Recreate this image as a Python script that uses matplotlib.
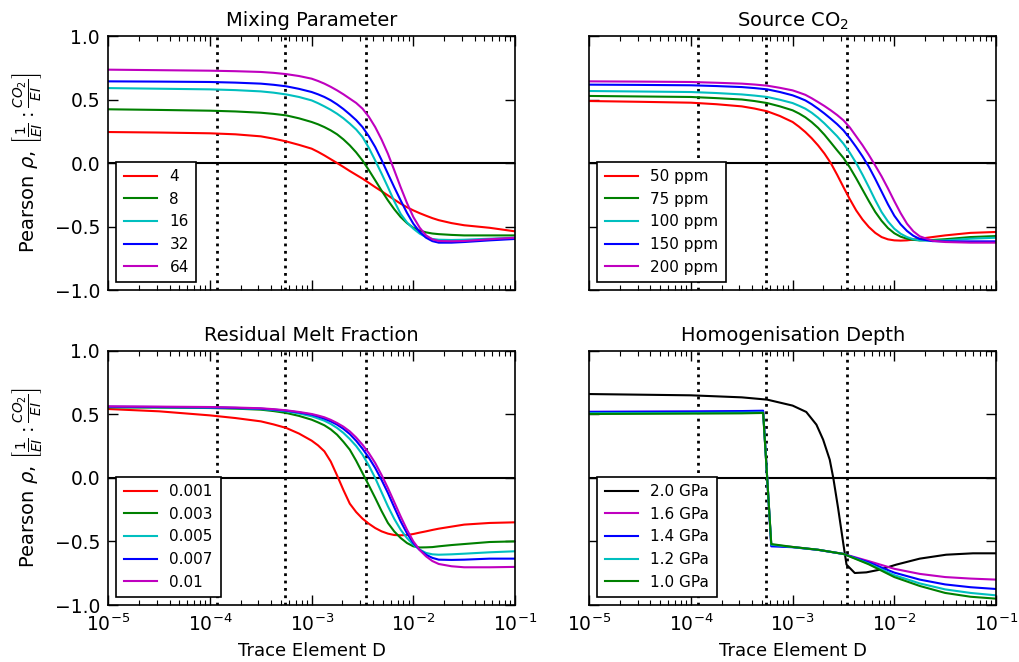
import numpy as np
import matplotlib
matplotlib.use("Agg")
import matplotlib.pyplot as plt
from matplotlib.ticker import LogLocator, NullFormatter, FixedLocator, FuncFormatter

# ---------------- data (log10 D grids and Pearson rho values) ----------------
logD_grid = [-5.0, -4.5, -4.0, -3.75, -3.5, -3.375, -3.25, -3.125, -3.0, -2.9375,
             -2.875, -2.8125, -2.75, -2.6875, -2.625, -2.5625, -2.5, -2.4375, -2.375,
             -2.3125, -2.25, -2.1875, -2.125, -2.0625, -2.0, -1.9375, -1.875, -1.8125,
             -1.75, -1.625, -1.5, -1.25, -1.0]

# Panel 1: Mixing Parameter
mix_labels = ["4", "8", "16", "32", "64"]
mix_4 = [0.244, 0.24, 0.234, 0.226, 0.21, 0.192, 0.17, 0.143, 0.113, 0.088,
         0.06, 0.03, 0.0, -0.031, -0.063, -0.093, -0.123, -0.156, -0.19,
         -0.222, -0.255, -0.288, -0.32, -0.348, -0.373, -0.395, -0.415, -0.434,
         -0.45, -0.473, -0.49, -0.51, -0.538]
mix_8 = [0.423, 0.418, 0.412, 0.406, 0.396, 0.387, 0.375, 0.352, 0.323, 0.305,
         0.283, 0.257, 0.226, 0.186, 0.139, 0.084, 0.02, -0.056, -0.136,
         -0.217, -0.294, -0.364, -0.425, -0.473, -0.51, -0.532, -0.546, -0.555,
         -0.56, -0.566, -0.57, -0.57, -0.57]
mix_16 = [0.59, 0.585, 0.58, 0.574, 0.564, 0.554, 0.54, 0.52, 0.493, 0.471,
          0.446, 0.419, 0.388, 0.352, 0.31, 0.264, 0.205, 0.119, 0.02,
          -0.083, -0.19, -0.301, -0.40, -0.468, -0.517, -0.556, -0.583, -0.598,
          -0.604, -0.606, -0.604, -0.596, -0.588]
mix_32 = [0.643, 0.641, 0.638, 0.633, 0.625, 0.616, 0.604, 0.584, 0.559, 0.541,
          0.52, 0.494, 0.462, 0.425, 0.383, 0.338, 0.283, 0.211, 0.126,
          0.024, -0.084, -0.191, -0.294, -0.392, -0.478, -0.542, -0.588, -0.615,
          -0.627, -0.627, -0.622, -0.609, -0.598]
mix_64 = [0.735, 0.731, 0.727, 0.723, 0.717, 0.71, 0.70, 0.685, 0.664, 0.646,
          0.625, 0.60, 0.572, 0.541, 0.507, 0.473, 0.428, 0.364, 0.283,
          0.185, 0.073, -0.057, -0.19, -0.315, -0.425, -0.509, -0.57, -0.601,
          -0.614, -0.616, -0.614, -0.60, -0.588]

# Panel 2: Source CO2
co2_labels = ["50 ppm", "75 ppm", "100 ppm", "150 ppm", "200 ppm"]
co2_50 = [0.488, 0.482, 0.475, 0.463, 0.446, 0.429, 0.407, 0.37, 0.323, 0.286,
          0.244, 0.195, 0.139, 0.075, 0.0, -0.092, -0.19, -0.285, -0.373,
          -0.445, -0.504, -0.55, -0.583, -0.601, -0.609, -0.611, -0.609, -0.603,
          -0.596, -0.583, -0.57, -0.55, -0.543]
co2_75 = [0.528, 0.524, 0.52, 0.511, 0.50, 0.488, 0.472, 0.446, 0.415, 0.39,
          0.36, 0.322, 0.277, 0.223, 0.162, 0.1, 0.04, -0.035, -0.12,
          -0.21, -0.30, -0.385, -0.455, -0.512, -0.553, -0.58, -0.596, -0.605,
          -0.609, -0.606, -0.60, -0.583, -0.575]
co2_100 = [0.567, 0.563, 0.559, 0.551, 0.54, 0.531, 0.52, 0.498, 0.472, 0.451,
           0.428, 0.396, 0.357, 0.312, 0.262, 0.211, 0.152, 0.081, 0.0,
           -0.092, -0.19, -0.292, -0.386, -0.46, -0.517, -0.557, -0.583, -0.60,
           -0.609, -0.611, -0.609, -0.596, -0.588]
co2_150 = [0.617, 0.615, 0.612, 0.606, 0.598, 0.59, 0.58, 0.559, 0.533, 0.514,
           0.493, 0.463, 0.428, 0.39, 0.349, 0.306, 0.257, 0.195, 0.126,
           0.052, -0.03, -0.125, -0.225, -0.325, -0.415, -0.483, -0.535, -0.573,
           -0.598, -0.615, -0.617, -0.617, -0.617]
co2_200 = [0.643, 0.641, 0.638, 0.632, 0.625, 0.618, 0.609, 0.592, 0.572, 0.555,
           0.537, 0.51, 0.48, 0.449, 0.415, 0.378, 0.336, 0.28, 0.21,
           0.14, 0.063, -0.02, -0.105, -0.2, -0.30, -0.395, -0.478, -0.538,
           -0.577, -0.612, -0.622, -0.627, -0.627]

# Panel 3: Residual Melt Fraction
melt_labels = ["0.001", "0.003", "0.005", "0.007", "0.01"]
melt_001 = [0.543, 0.525, 0.493, 0.472, 0.446, 0.422, 0.394, 0.35, 0.294, 0.257,
            0.21, 0.13, 0.02, -0.095, -0.202, -0.268, -0.32, -0.36, -0.394,
            -0.42, -0.438, -0.449, -0.451, -0.449, -0.441, -0.43, -0.42, -0.409,
            -0.399, -0.383, -0.367, -0.354, -0.349]
melt_003 = [0.556, 0.554, 0.551, 0.546, 0.538, 0.527, 0.512, 0.489, 0.459, 0.438,
            0.415, 0.383, 0.341, 0.285, 0.223, 0.136, 0.039, -0.058, -0.157,
            -0.26, -0.354, -0.421, -0.472, -0.512, -0.538, -0.547, -0.546, -0.544,
            -0.538, -0.528, -0.52, -0.504, -0.499]
melt_005 = [0.559, 0.557, 0.554, 0.55, 0.543, 0.535, 0.525, 0.508, 0.486, 0.469,
            0.451, 0.426, 0.394, 0.355, 0.307, 0.252, 0.184, 0.098, 0.0,
            -0.112, -0.223, -0.322, -0.407, -0.473, -0.525, -0.564, -0.59, -0.601,
            -0.604, -0.601, -0.596, -0.585, -0.577]
melt_007 = [0.562, 0.559, 0.556, 0.552, 0.546, 0.539, 0.53, 0.516, 0.499, 0.484,
            0.467, 0.446, 0.42, 0.387, 0.346, 0.293, 0.231, 0.16, 0.079,
            -0.015, -0.118, -0.231, -0.341, -0.435, -0.512, -0.566, -0.604, -0.629,
            -0.643, -0.645, -0.643, -0.635, -0.635]
melt_01 = [0.564, 0.562, 0.559, 0.555, 0.549, 0.542, 0.533, 0.52, 0.504, 0.492,
           0.478, 0.458, 0.433, 0.404, 0.367, 0.319, 0.262, 0.196, 0.118,
           0.024, -0.079, -0.19, -0.302, -0.407, -0.499, -0.567, -0.617, -0.654,
           -0.677, -0.695, -0.703, -0.703, -0.70]

# Panel 4: Homogenisation Depth
depth_labels = ["2.0 GPa", "1.6 GPa", "1.4 GPa", "1.2 GPa", "1.0 GPa"]
logD_depth20 = [-5.0, -4.0, -3.5, -3.25, -3.0, -2.866, -2.766, -2.70, -2.635, -2.60,
                -2.553, -2.50, -2.47, -2.389, -2.275, -2.143, -1.98, -1.75, -1.49,
                -1.226, -1.0]
depth_20 = [0.661, 0.651, 0.635, 0.617, 0.57, 0.52, 0.42, 0.302, 0.144, 0.0,
            -0.236, -0.525, -0.682, -0.748, -0.743, -0.722, -0.682, -0.635, -0.604,
            -0.593, -0.593]
logD_depth = [-5.0, -4.0, -3.5, -3.29, -3.21, -3.0, -2.75, -2.5, -2.25, -2.0,
              -1.75, -1.5, -1.25, -1.0]
depth_16 = [0.52, 0.522, 0.524, 0.526, -0.53, -0.543, -0.565, -0.598, -0.655, -0.715,
            -0.755, -0.78, -0.792, -0.80]
depth_14 = [0.521, 0.524, 0.527, 0.53, -0.538, -0.545, -0.566, -0.598, -0.665, -0.745,
            -0.80, -0.838, -0.86, -0.874]
depth_12 = [0.51, 0.512, 0.514, 0.516, -0.525, -0.544, -0.565, -0.598, -0.675, -0.765,
            -0.83, -0.877, -0.905, -0.924]
depth_10 = [0.504, 0.507, 0.509, 0.512, -0.52, -0.543, -0.565, -0.598, -0.68, -0.78,
            -0.85, -0.905, -0.935, -0.95]

# reference D values (vertical dotted lines)
ref_D = [1.18e-4, 5.46e-4, 3.39e-3]

colors5 = ["r", "g", "c", "b", "m"]

# ---------------- figure ----------------
plt.rcParams["font.family"] = "DejaVu Sans"
plt.rcParams["mathtext.fontset"] = "dejavusans"
plt.rcParams["lines.solid_joinstyle"] = "round"
fig = plt.figure(figsize=(10.19, 6.62), dpi=100)
fig.patch.set_facecolor("white")

L1, L2, W = 0.1063, 0.5783, 0.3991
B_top, B_bot, H = 0.5619, 0.0861, 0.3837
rects = [[L1, B_top, W, H], [L2, B_top, W, H], [L1, B_bot, W, H], [L2, B_bot, W, H]]
titles = ["Mixing Parameter", "Source CO$_2$", "Residual Melt Fraction",
          "Homogenisation Depth"]

panels = [
    ([logD_grid] * 5, [mix_4, mix_8, mix_16, mix_32, mix_64], colors5, mix_labels),
    ([logD_grid] * 5, [co2_50, co2_75, co2_100, co2_150, co2_200], colors5, co2_labels),
    ([logD_grid] * 5, [melt_001, melt_003, melt_005, melt_007, melt_01], colors5, melt_labels),
    ([logD_depth20, logD_depth, logD_depth, logD_depth, logD_depth],
     [depth_20, depth_16, depth_14, depth_12, depth_10],
     ["k", "m", "b", "c", "g"], depth_labels),
]

ylab = r"Pearson $\rho$, $\left[\frac{1}{EI}:\frac{CO_2}{EI}\right]$"
yfmt = FuncFormatter(lambda v, p: ("%.1f" % v).replace("-", "\u2212"))

for i, (rect, title, (xs, ys, cols, labs)) in enumerate(zip(rects, titles, panels)):
    ax = fig.add_axes(rect)
    ax.axhline(0.0, color="k", lw=1.5)
    for d in ref_D:
        ax.axvline(d, color="k", ls=":", lw=2)
    for x, y, c, lab in zip(xs, ys, cols, labs):
        ax.plot(10 ** np.array(x), y, color=c, lw=1.5, label=lab)
    ax.set_xscale("log")
    ax.set_xlim(1e-5, 1e-1)
    ax.set_ylim(-1.0, 1.0)
    ax.yaxis.set_major_locator(FixedLocator([-1.0, -0.5, 0.0, 0.5, 1.0]))
    ax.xaxis.set_major_locator(LogLocator(base=10, numticks=10))
    ax.xaxis.set_minor_locator(LogLocator(base=10, subs=np.arange(2, 10), numticks=20))
    ax.xaxis.set_minor_formatter(NullFormatter())
    ax.tick_params(which="both", direction="in", top=True, right=True)
    ax.tick_params(which="major", length=7, width=1, labelsize=13.5, pad=6)
    ax.tick_params(which="minor", length=3.5, width=0.8)
    for s in ax.spines.values():
        s.set_linewidth(1.2)
    ax.set_title(title, fontsize=14, pad=7)
    if i in (0, 2):
        ax.set_ylabel(ylab, fontsize=14, labelpad=8)
        ax.yaxis.set_major_formatter(yfmt)
    else:
        ax.set_yticklabels([])
    if i in (2, 3):
        ax.set_xlabel("Trace Element D", fontsize=13, labelpad=5)
    else:
        ax.set_xticklabels([])
    leg = ax.legend(loc="lower left", fontsize=11, fancybox=False, framealpha=1,
                    edgecolor="k", handlelength=2.2, borderpad=0.5, labelspacing=0.5)
    leg.get_frame().set_linewidth(1.2)

fig.savefig("out.png", dpi=100, facecolor="white")
